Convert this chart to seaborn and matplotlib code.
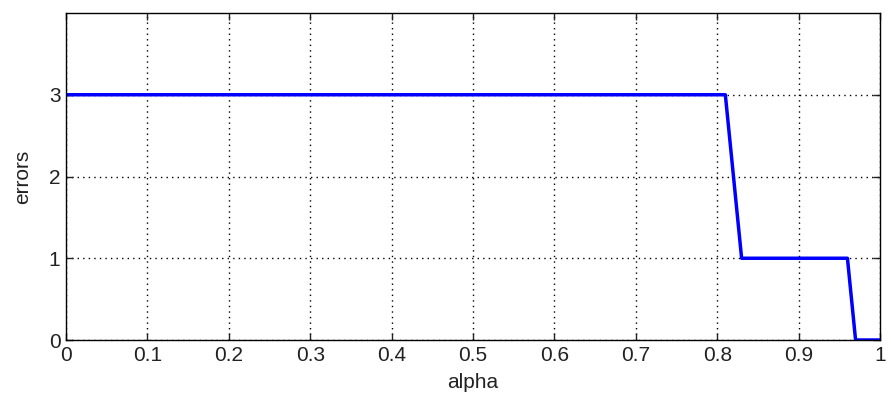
import matplotlib
matplotlib.use("Agg")
import matplotlib.pyplot as plt
import seaborn as sns
import pandas as pd

alpha = [0.0, 0.81, 0.83, 0.96, 0.97, 1.0]
errors = [3, 3, 1, 1, 0, 0]
xticks = [0, 0.1, 0.2, 0.3, 0.4, 0.5, 0.6, 0.7, 0.8, 0.9, 1]
xticklabels = ["0", "0.1", "0.2", "0.3", "0.4", "0.5", "0.6", "0.7", "0.8", "0.9", "1"]
yticks = [0, 1, 2, 3]

sns.set_style("white")
plt.rcParams['font.family'] = ['Liberation Sans', 'DejaVu Sans']

df = pd.DataFrame({"alpha": alpha, "errors": errors})

fig = plt.figure(figsize=(8.91, 4.08), dpi=100)
ax = fig.add_axes([66/891, 68/408, (880-66)/891, (340-13)/408])
sns.lineplot(data=df, x="alpha", y="errors", ax=ax, color="#0000ff", linewidth=2.5, sort=False, estimator=None)
ax.set_xlim(0, 1)
ax.set_ylim(0, 4)
ax.set_xticks(xticks)
ax.set_xticklabels(xticklabels)
ax.set_yticks(yticks)
ax.grid(True, color="black", linestyle=(0, (1, 3)), linewidth=1.0)
ax.set_axisbelow(True)
for s in ax.spines.values():
    s.set_color("black")
    s.set_linewidth(1.0)
ax.tick_params(direction="in", length=5, width=1, colors="#222222", labelsize=15,
               top=True, right=True, bottom=True, left=True, pad=4)
ax.set_xlabel("alpha", fontsize=15, labelpad=6, color="#222222")
ax.set_ylabel("errors", fontsize=15, labelpad=12, color="#222222")
fig.savefig("out.png", dpi=100)
